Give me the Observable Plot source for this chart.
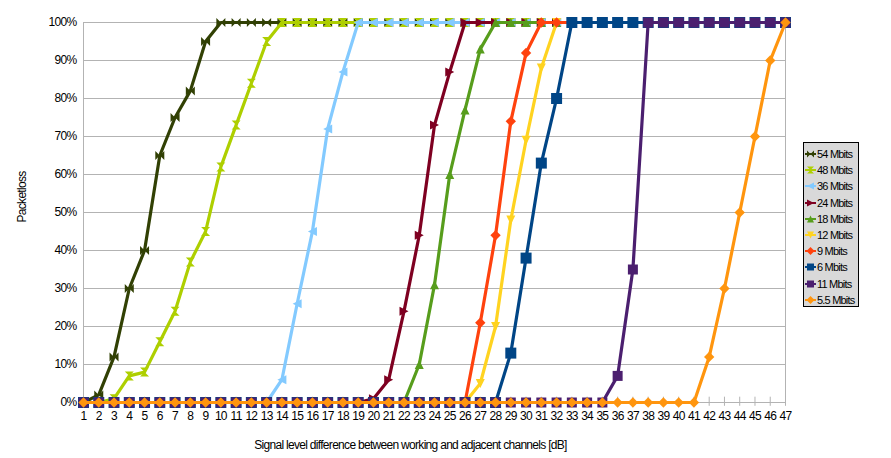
<!DOCTYPE html>
<html>
<head>
<meta charset="utf-8">
<script src="https://cdn.jsdelivr.net/npm/d3@7"></script>
<script src="https://cdn.jsdelivr.net/npm/@observablehq/plot@0.6"></script>
<style>
  body { margin: 0; background: #fff; }
  #wrap { position: relative; width: 891px; height: 458px; font-family: "Liberation Sans", Arial, sans-serif; }
  #legend { position: absolute; left: 803px; top: 142px; width: 56px; height: 165px; background: #d9d9d9; border: 1px solid #000; box-sizing: border-box; }
  .item { position: absolute; left: 0; height: 16px; display: flex; align-items: center; font-size: 11px; letter-spacing: -0.8px; color: #000; white-space: nowrap; }
  .item svg { margin-left: 1px; margin-right: 1px; }
</style>
</head>
<body>
<div id="wrap"><div id="chart"></div><div id="legend"></div></div>
<script>
const X = [1,2,3,4,5,6,7,8,9,10,11,12,13,14,15,16,17,18,19,20,21,22,23,24,25,26,27,28,29,30,31,32,33,34,35,36,37,38,39,40,41,42,43,44,45,46,47];
const yTicks = [0,10,20,30,40,50,60,70,80,90,100];
const names = ["54 Mbits","48 Mbits","36 Mbits","24 Mbits","18 Mbits","12 Mbits","9 Mbits","6 Mbits","11 Mbits","5.5 Mbits"];
const s54 = [0,2,12,30,40,65,75,82,95,100, 100,100,100,100,100,100,100,100,100,100, 100,100,100,100,100,100,100,100,100,100, 100,100,100,100,100,100,100,100,100,100, 100,100,100,100,100,100,100];
const s48 = [0,0,1,7,8,16,24,37,45,62, 73,84,95,100,100,100,100,100,100,100, 100,100,100,100,100,100,100,100,100,100, 100,100,100,100,100,100,100,100,100,100, 100,100,100,100,100,100,100];
const s36 = [0,0,0,0,0,0,0,0,0,0, 0,0,0,6,26,45,72,87,100,100, 100,100,100,100,100,100,100,100,100,100, 100,100,100,100,100,100,100,100,100,100, 100,100,100,100,100,100,100];
const s24 = [0,0,0,0,0,0,0,0,0,0, 0,0,0,0,0,0,0,0,0,1, 6,24,44,73,87,100,100,100,100,100, 100,100,100,100,100,100,100,100,100,100, 100,100,100,100,100,100,100];
const s18 = [0,0,0,0,0,0,0,0,0,0, 0,0,0,0,0,0,0,0,0,0, 0,0,10,31,60,77,93,100,100,100, 100,100,100,100,100,100,100,100,100,100, 100,100,100,100,100,100,100];
const s12 = [0,0,0,0,0,0,0,0,0,0, 0,0,0,0,0,0,0,0,0,0, 0,0,0,0,0,0,5,20,48,69, 88,100,100,100,100,100,100,100,100,100, 100,100,100,100,100,100,100];
const s9  = [0,0,0,0,0,0,0,0,0,0, 0,0,0,0,0,0,0,0,0,0, 0,0,0,0,0,0,21,44,74,92, 100,100,100,100,100,100,100,100,100,100, 100,100,100,100,100,100,100];
const s6  = [0,0,0,0,0,0,0,0,0,0, 0,0,0,0,0,0,0,0,0,0, 0,0,0,0,0,0,0,0,13,38, 63,80,100,100,100,100,100,100,100,100, 100,100,100,100,100,100,100];
const s11 = [0,0,0,0,0,0,0,0,0,0, 0,0,0,0,0,0,0,0,0,0, 0,0,0,0,0,0,0,0,0,0, 0,0,0,0,0,7,35,100,100,100, 100,100,100,100,100,100,100];
const s55 = [0,0,0,0,0,0,0,0,0,0, 0,0,0,0,0,0,0,0,0,0, 0,0,0,0,0,0,0,0,0,0, 0,0,0,0,0,0,0,0,0,0, 0,12,30,50,70,90,100];
const colors = ["#314004","#aecf00","#83caff","#7e0021","#579d1c","#ffd320","#ff420e","#004586","#4b1f6f","#ff950e"];
const values = [s54,s48,s36,s24,s18,s12,s9,s6,s11,s55];
values.forEach((v,i)=>{ if (v.length !== X.length) throw new Error(names[i] + " length " + v.length); });

function poly(pts) {
  return {draw(ctx, size) {
    const r = Math.sqrt(size / Math.PI);
    ctx.moveTo(pts[0][0]*r, pts[0][1]*r);
    for (let k = 1; k < pts.length; k++) ctx.lineTo(pts[k][0]*r, pts[k][1]*r);
    ctx.closePath();
  }};
}
const SYM = {
  square: poly([[-1,-1],[1,-1],[1,1],[-1,1]]),
  diamond: poly([[0,-1.15],[1.15,0],[0,1.15],[-1.15,0]]),
  down: poly([[-1,-1],[1,-1],[0,1]]),
  up: poly([[-1,1],[1,1],[0,-1]]),
  right: poly([[-1,-1],[1,0],[-1,1]]),
  left: poly([[1,-1],[-1,0],[1,1]]),
  bowtie: poly([[-1,-1],[1,1],[1,-1],[-1,1]]),
  hourglass: poly([[-1,-1],[1,-1],[-1,1],[1,1]])
};
const symbols = ["bowtie","hourglass","left","right","up","down","diamond","square","square","diamond"];
const radii = [4.5,4.5,4.5,4.5,4.5,4.5,4.5,5.5,5,4.5];

const marks = [
  Plot.gridY(yTicks, {stroke: "#b3b3b3", strokeOpacity: 1}),
  Plot.ruleX([1,47], {stroke: "#b3b3b3"}),
  Plot.ruleX(X, {x: d => d, y1: -1, y2: 1.4, stroke: "#b3b3b3"}),
  Plot.axisY({ticks: yTicks, tickSize: 0, tickPadding: 7, tickFormat: d => d + "%", label: null, fontSize: 12}),
  Plot.axisX({ticks: X, tickSize: 0, tickPadding: 9, tickFormat: d => String(d), label: null, fontSize: 12})
];
values.forEach((v, i) => {
  const rows = X.map((x, j) => ({x, y: v[j]}));
  marks.push(Plot.line(rows, {x: "x", y: "y", stroke: colors[i], strokeWidth: 3.2, strokeLinejoin: "round"}));
  marks.push(Plot.dot(rows, {x: "x", y: "y", symbol: SYM[symbols[i]], r: radii[i], fill: colors[i], stroke: "none"}));
});
marks.push(Plot.text(["Signal level difference between working and adjacent channels [dB]"], {frameAnchor: "bottom", dx: -24, dy: 46, fontSize: 12, fill: "#000"}));
marks.push(Plot.text(["Packetloss"], {frameAnchor: "left", dx: -61, dy: 10, rotate: -90, fontSize: 12, fill: "#000"}));

const chart = Plot.plot({
  width: 891, height: 458,
  marginLeft: 83, marginRight: 106, marginTop: 22, marginBottom: 56,
  x: {type: "linear", domain: [1, 47]},
  y: {domain: [0, 100]},
  style: {fontFamily: "'Liberation Sans', Arial, sans-serif", fontSize: "12px", color: "#000", background: "#fff", letterSpacing: "-0.7px"},
  marks
});
document.getElementById("chart").appendChild(chart);

const legend = d3.select("#legend");
names.forEach((n, i) => {
  const it = legend.append("div").attr("class", "item").style("top", (3 + i * 16.2) + "px");
  const svg = it.append("svg").attr("width", 11).attr("height", 12);
  svg.append("line").attr("x1", 0).attr("x2", 11).attr("y1", 6).attr("y2", 6).attr("stroke", colors[i]).attr("stroke-width", 2);
  const p = d3.path();
  SYM[symbols[i]].draw(p, Math.PI * 3.5 * 3.5);
  svg.append("path").attr("d", p.toString()).attr("transform", "translate(5.5,6)").attr("fill", colors[i]);
  it.append("span").text(n);
});
</script>
</body>
</html>
